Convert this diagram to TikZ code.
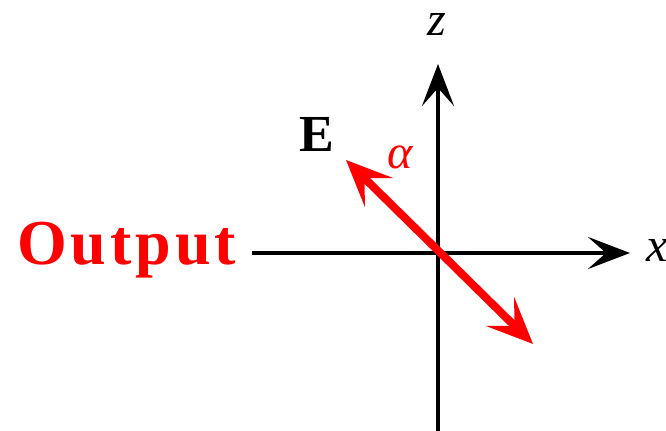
\documentclass[tikz,border=0pt]{standalone}
\usepackage{fontspec}
\setmainfont{Liberation Serif}
\usetikzlibrary{arrows.meta}
\definecolor{outred}{RGB}{255,0,0}
\tikzset{
  axisline/.style={line width=2.3pt, -{Stealth[length=21pt,width=16pt,inset=9pt]}},
  pol/.style={draw=outred, line width=4pt, {Stealth[length=23pt,width=20pt,inset=10pt]}-{Stealth[length=23pt,width=20pt,inset=10pt]}},
  lab/.style={inner sep=0pt, font=\fontsize{24}{28}\selectfont\itshape}
}
\begin{document}
\begin{tikzpicture}[x=0.5pt,y=-0.5pt]
\useasboundingbox (0,0) rectangle (666,431);
\coordinate (o) at (438,253);
\coordinate (hstart) at (252,253);
\coordinate (xtip) at (630,253);
\coordinate (vstart) at (438,431);
\coordinate (ztip) at (438,64);
\coordinate (ea) at (346,160);
\coordinate (eb) at (533,344);
\draw[axisline] (hstart) -- (xtip);
\draw[axisline] (vstart) -- (ztip);
\draw[pol] (ea) -- (eb);
\node[lab] (zl) at (437,24) {z};
\node[lab, anchor=west] (xl) at (646,250) {x};
\node[inner sep=0pt, font=\fontsize{26}{30}\selectfont\bfseries] (E) at (317,134) {E};
\node[lab, text=outred] (al) at (400,157) {α};
\node[inner sep=0pt, anchor=base west, text=outred, font=\fontsize{32}{36}\selectfont\bfseries\addfontfeatures{LetterSpace=6}] (out) at (17,265) {Output};
\end{tikzpicture}
\end{document}
